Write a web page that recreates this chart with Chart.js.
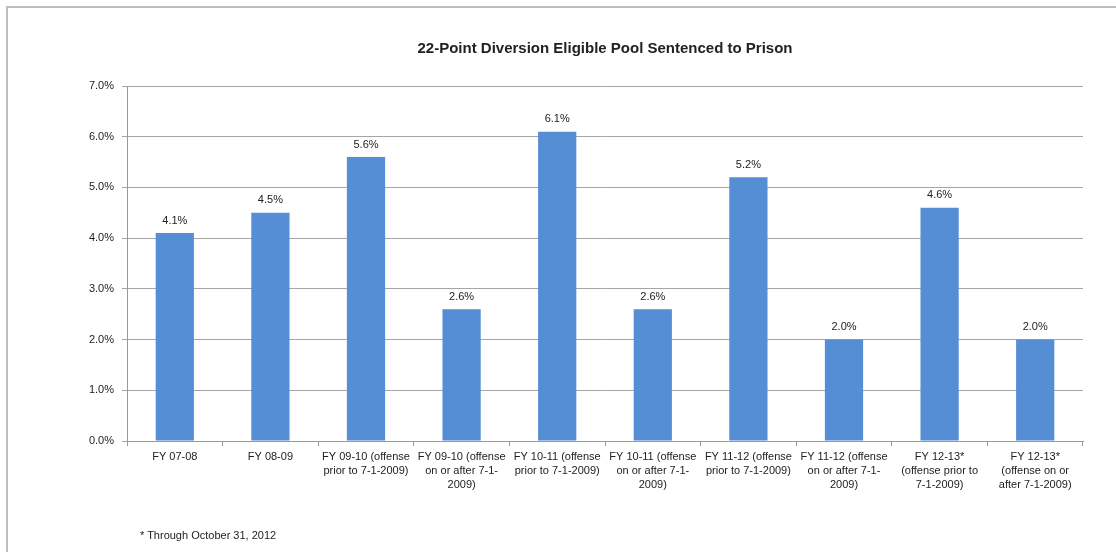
<!DOCTYPE html>
<html lang="en">
<head>
  <meta charset="UTF-8">
  <title>22-Point Diversion Eligible Pool Sentenced to Prison</title>
  <script src="https://cdn.jsdelivr.net/npm/chart.js@4.4.1/dist/chart.umd.min.js"></script>
  <style>
    body {
      margin: 0;
      padding: 0;
      background-color: #fff;
      overflow: hidden;
      font-family: 'Liberation Sans', Arial, sans-serif;
    }

    /* chart frame runs off the bottom/right of the page */
    .frame {
      position: absolute;
      left: 6px;
      top: 6px;
      width: 1200px;
      height: 700px;
      border: 2px solid #bdbdbd;
    }

    .chart-box {
      position: absolute;
      left: 0;
      top: 0;
      width: 1116px;
      height: 552px;
    }

    .note {
      position: absolute;
      left: 140px;
      top: 529px;
      font-size: 11px;
      color: #222;
    }
  </style>
</head>
<body>
  <div class="frame"></div>
  <div class="chart-box">
    <canvas id="poolChart"></canvas>
  </div>
  <div class="note">* Through October 31, 2012</div>

  <script>
  // categories (each one split into its wrapped lines)
  const categories = [
    ['FY 07-08'],
    ['FY 08-09'],
    ['FY 09-10 (offense', 'prior to 7-1-2009)'],
    ['FY 09-10 (offense', 'on or after 7-1-', '2009)'],
    ['FY 10-11 (offense', 'prior to 7-1-2009)'],
    ['FY 10-11 (offense', 'on or after 7-1-', '2009)'],
    ['FY 11-12 (offense', 'prior to 7-1-2009)'],
    ['FY 11-12 (offense', 'on or after 7-1-', '2009)'],
    ['FY 12-13*', '(offense prior to', '7-1-2009)'],
    ['FY 12-13*', '(offense on or', 'after 7-1-2009)']
  ];
  // percent of eligible pool sentenced to prison
  const prisonPct = [4.1, 4.5, 5.6, 2.6, 6.1, 2.6, 5.2, 2.0, 4.6, 2.0];
  const yTicks = [0, 1, 2, 3, 4, 5, 6, 7];

  const chartTitle = '22-Point Diversion Eligible Pool Sentenced to Prison';
  const fontFamily = '"Liberation Sans", Arial, sans-serif';

  const fmt = v => v.toFixed(1) + '%';

  // value labels on top of each bar
  const barValues = {
    id: 'barValues',
    afterDatasetsDraw(chart) {
      const ctx = chart.ctx;
      const meta = chart.getDatasetMeta(0);
      ctx.save();
      ctx.font = '11px ' + fontFamily;
      ctx.fillStyle = '#222';
      ctx.textAlign = 'center';
      ctx.textBaseline = 'bottom';
      meta.data.forEach((bar, i) => {
        ctx.fillText(fmt(chart.data.datasets[0].data[i]), bar.x, bar.y - 7);
      });
      ctx.restore();
    }
  };

  // title centred over the plot area rather than the whole canvas
  const plotTitle = {
    id: 'plotTitle',
    afterDraw(chart) {
      const ctx = chart.ctx;
      const area = chart.chartArea;
      ctx.save();
      ctx.font = 'bold 15px ' + fontFamily;
      ctx.fillStyle = '#222';
      ctx.textAlign = 'center';
      ctx.textBaseline = 'middle';
      ctx.fillText(chartTitle, (area.left + area.right) / 2, 49);
      ctx.restore();
    }
  };

  const ctx = document.getElementById('poolChart').getContext('2d');
  new Chart(ctx, {
    type: 'bar',
    data: {
      labels: categories,
      datasets: [{
        label: 'Sentenced to Prison',
        data: prisonPct,
        backgroundColor: '#558ed5',
        borderWidth: 0,
        categoryPercentage: 1,
        barPercentage: 0.4
      }]
    },
    options: {
      responsive: true,
      maintainAspectRatio: false,
      animation: false,
      layout: {
        padding: { left: 0, right: 33, top: 86, bottom: 0 }
      },
      plugins: {
        legend: { display: false },
        tooltip: { enabled: false },
        title: { display: false }
      },
      scales: {
        x: {
          offset: true,
          grid: {
            offset: true,
            drawOnChartArea: false,
            drawTicks: true,
            tickLength: 5,
            color: '#999'
          },
          border: { color: '#999', width: 1 },
          ticks: {
            color: '#222',
            maxRotation: 0,
            autoSkip: false,
            padding: 4,
            font: { family: fontFamily, size: 11, lineHeight: 1.27 }
          },
          afterFit(scale) { scale.height = 111; }
        },
        y: {
          min: 0,
          max: 7,
          afterBuildTicks(scale) {
            scale.ticks = yTicks.map(v => ({ value: v }));
          },
          grid: {
            color: '#a6a6a6',
            tickLength: 5,
            lineWidth: 1
          },
          border: { color: '#999', width: 1 },
          ticks: {
            color: '#222',
            padding: 8,
            font: { family: fontFamily, size: 11 },
            callback: v => fmt(v)
          },
          afterFit(scale) { scale.width = 127; }
        }
      }
    },
    plugins: [barValues, plotTitle]
  });
</script>
</body>
</html>
